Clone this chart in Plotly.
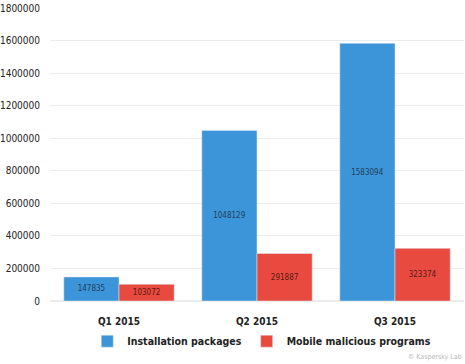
import plotly.graph_objects as go

quarters = ["Q1 2015", "Q2 2015", "Q3 2015"]
installation_packages = [147835, 1048129, 1583094]
mobile_malicious = [103072, 291887, 323374]
y_ticks = [0, 200000, 400000, 600000, 800000, 1000000, 1200000, 1400000, 1600000, 1800000]

FONT = "DejaVu Sans Condensed, Roboto, sans-serif"

fig = go.Figure()
fig.add_trace(go.Bar(
    name="<b>Installation packages</b>", x=quarters, y=installation_packages,
    marker_color="#3b95d8", text=[str(v) for v in installation_packages],
    textposition="inside", insidetextanchor="middle", textangle=0,
    textfont=dict(size=8, color="#23405a", family=FONT),
))
fig.add_trace(go.Bar(
    name="<b>Mobile malicious programs</b>", x=quarters, y=mobile_malicious,
    marker_color="#e84a3f", text=[str(v) for v in mobile_malicious],
    textposition="inside", insidetextanchor="middle", textangle=0,
    textfont=dict(size=8, color="#5a1a14", family=FONT),
))

fig.update_layout(
    width=465, height=364,
    margin=dict(l=50, r=1, t=8, b=63, autoexpand=False),
    paper_bgcolor="white", plot_bgcolor="white",
    barmode="group", bargap=0.2, bargroupgap=0,
    font=dict(family=FONT, color="#222222"),
    showlegend=True,
    legend=dict(orientation="h", x=0.09, xanchor="left", y=-0.137, yanchor="middle",
                font=dict(size=10.5, color="#222222", family=FONT),
                itemwidth=30, traceorder="normal"),
    annotations=[dict(text="© Kaspersky Lab", x=1, y=-0.19, xref="paper", yref="paper",
                      xanchor="right", yanchor="middle", showarrow=False,
                      font=dict(size=7, color="#b8b8b8", family=FONT))],
)
fig.update_xaxes(showgrid=False, showline=False, ticks="outside", ticklen=11,
                 tickcolor="rgba(0,0,0,0)",
                 tickvals=quarters, ticktext=["<b>%s</b>" % q for q in quarters],
                 tickfont=dict(size=10, color="#222222", family=FONT))
fig.update_yaxes(range=[0, 1800000], tickvals=y_ticks, ticktext=[str(v) for v in y_ticks],
                 showgrid=True, gridcolor="#ececec", gridwidth=1, zeroline=True,
                 zerolinecolor="#ececec", showline=False,
                 ticks="outside", ticklen=7, tickcolor="rgba(0,0,0,0)",
                 tickfont=dict(size=10, color="#222222", family=FONT))

fig.write_html("out.html", config={"displayModeBar": False},
               post_script="document.body.style.margin='0';")
